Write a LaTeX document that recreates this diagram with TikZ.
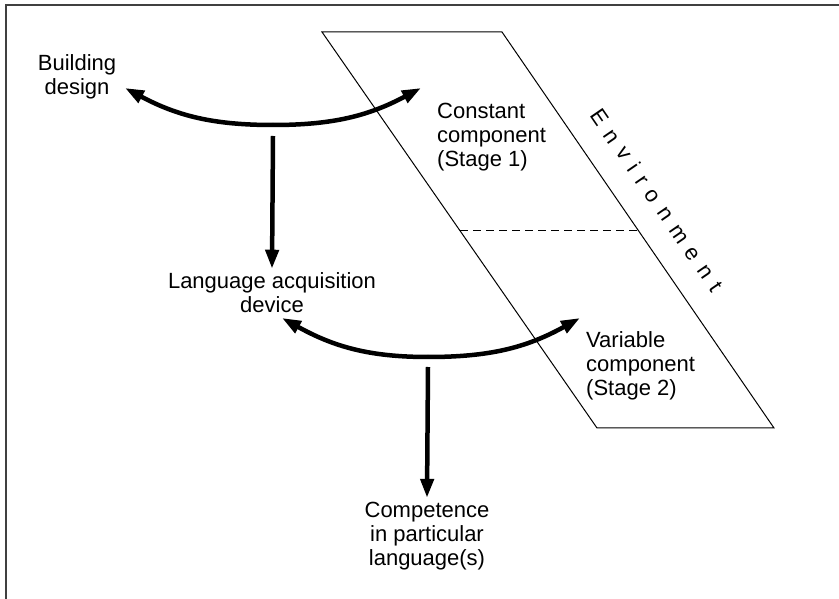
\documentclass[tikz,border=0pt]{standalone}
\usepackage{fontspec}
\setmainfont{Liberation Sans}
\newfontfamily\envfont[LetterSpace=42]{Liberation Sans}
\usetikzlibrary{arrows.meta,calc}
\tikzset{
  txt/.style={align=center, inner sep=0pt, font=\fontsize{22}{24}\selectfont},
  txtl/.style={txt, align=left, anchor=west},
  bigarrow/.style={-{Triangle[length=19pt,width=13pt]}, line width=4.5pt},
  envline/.style={line width=1pt},
  frame/.style={draw=black!75, line width=2pt},
}

\begin{document}
\begin{tikzpicture}[x=1pt,y=1pt]
  \useasboundingbox (0,0) rectangle (839,598);
  \clip (0,0) rectangle (839,598);
  % outer frame, runs off the right and bottom edges
  \draw[frame] (6,-20) -- (6,593) -- (860,593);

  % environment parallelogram
  \coordinate (pTL) at (322,566);
  \coordinate (pTR) at (502,566);
  \coordinate (pBR) at (774,170);
  \coordinate (pBL) at (597,170);
  \draw[envline] (pTL) -- (pTR) -- (pBR) -- (pBL) -- cycle;
  \draw[envline, dashed, dash pattern=on 8pt off 5pt]
    ($(pTL)!0.5025!(pBL)$) -- ($(pTR)!0.5025!(pBR)$);
  \node[txt, rotate=-55.5, font=\envfont\fontsize{22}{24}\selectfont] (env) at (657,398) {Environment};

  % texts
  \node[txt] (design) at (77,521) {Building\\design};
  \node[txtl] (constc) at (437,461) {Constant\\component\\(Stage 1)};
  \node[txt] (lad) at (272,305) {Language acquisition\\device};
  \node[txtl] (varc) at (586,232) {Variable\\component\\(Stage 2)};
  \node[txt] (compet) at (427,62) {Competence\\in particular\\language(s)};

  % upper fork
  \coordinate (arcA) at (273,473);
  \coordinate (tipA1) at (125,510);
  \coordinate (tipA2) at (421,510);
  \draw[bigarrow] (arcA) to[out=180,in=-28] (tipA1);
  \draw[bigarrow] (arcA) to[out=0,in=208] (tipA2);
  \draw[bigarrow] ([yshift=-11pt]arcA) -- ([yshift=4pt]lad.north);

  % lower fork
  \coordinate (arcB) at (428,241);
  \coordinate (tipB1) at (282,280);
  \coordinate (tipB2) at (580,280);
  \draw[bigarrow] (arcB) to[out=180,in=-29] (tipB1);
  \draw[bigarrow] (arcB) to[out=0,in=209] (tipB2);
  \draw[bigarrow] ([yshift=-10pt]arcB) -- ([yshift=4pt]compet.north);
\end{tikzpicture}
\end{document}
